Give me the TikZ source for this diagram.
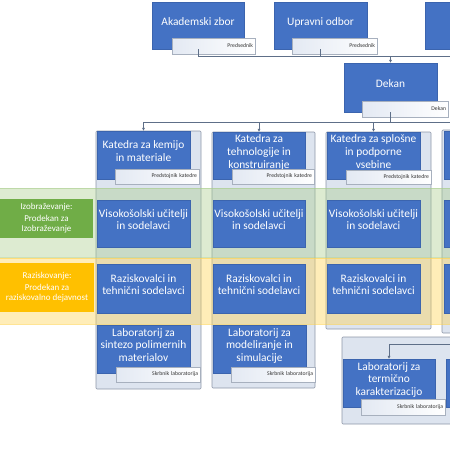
\documentclass[tikz,border=0pt]{standalone}
\usepackage{fontspec}
\setmainfont{Carlito}
\usetikzlibrary{arrows.meta}
\definecolor{obl}{HTML}{4472C4}
\definecolor{bbord}{HTML}{3B64AE}
\definecolor{capb}{HTML}{A7B0BE}
\definecolor{capl}{HTML}{E3E9F3}
\definecolor{contb}{HTML}{8D97A8}
\definecolor{contf}{HTML}{DDE4EF}
\definecolor{connc}{HTML}{5E6F88}
\definecolor{gband}{HTML}{A9CD8C}
\definecolor{yband}{HTML}{FFD24D}
\definecolor{glab}{HTML}{70AD47}
\definecolor{ylab}{HTML}{FFC000}
\tikzset{
 blk/.style={draw=bbord, line width=0.4pt, fill=obl, text=white, inner sep=0pt, outer sep=0pt, align=center, anchor=north west, text depth=8pt, font=\fontsize{11.4}{12.8}\selectfont},
 sz/.style 2 args={minimum width=#1pt, minimum height=#2pt},
 capbox/.style={draw=capb, line width=0.5pt, left color=capl, right color=white, text=black!80, inner ysep=0pt, inner xsep=2pt, outer sep=0pt, align=right, anchor=north west, font=\fontsize{5.7}{6}\selectfont},
 cont/.style={draw=contb, fill=contf, line width=0.6pt, rounded corners=1pt, anchor=north west, inner sep=0pt, outer sep=0pt},
 band/.style={fill opacity=0.4, draw opacity=0.6, line width=0.5pt, anchor=north west, inner sep=0pt, outer sep=0pt},
 sidebox/.style={text=white, inner sep=0pt, outer sep=0pt, align=center, anchor=north west, font=\fontsize{9}{10.5}\selectfont},
 conn/.style={draw=connc, line width=0.6pt},
 arr/.style={conn, -{Latex[length=3.2pt,width=3.2pt]}},
}
\begin{document}
\begin{tikzpicture}[x=1pt,y=-1pt]
\useasboundingbox (0,0) rectangle (450,450);
\clip (0,0) rectangle (450,450);
% containers
\node[cont, sz={105}{258}] (c1) at (96,131) {};
\node[cont, sz={103}{256}] (c2) at (212,132) {};
\node[cont, sz={105}{197}] (c3) at (326,132) {};
\node[cont, sz={30}{203}] (c4) at (442,130) {};
\node[cont, sz={130}{87}] (lc3) at (342,337) {};
% bands
\node[band, fill=gband, draw=gband, sz={452}{69}] (gb) at (-1,188) {};
\node[band, fill=yband, draw=yband, sz={452}{66}] (yb) at (-1,258) {};
% side labels
\node[sidebox, fill=glab, sz={93}{39}] (gl) at (0,199) {Izobraževanje:\\[1pt]Prodekan za\\Izobraževanje};
\node[sidebox, fill=ylab, sz={94}{49}] (yl) at (0,263) {Raziskovanje:\\[1pt]Prodekan za\\raziskovalno dejavnost};
% top boxes
\node[blk, sz={92}{47}] (ak) at (152,2) {Akademski zbor};
\node[blk, sz={93}{47}] (up) at (274,2) {Upravni odbor};
\node[blk, sz={60}{47}] (t3) at (425,2) {};
\node[blk, sz={93}{49}] (dek) at (344,63) {Dekan};
% departments
\node[blk, sz={93}{48}] (k1) at (97,131) {Katedra za kemijo\\in materiale};
\node[blk, sz={92}{47}] (k2) at (213,132) {Katedra za\\tehnologije in\\konstruiranje};
\node[blk, sz={93}{47}] (k3) at (327,132) {Katedra za splošne\\in podporne\\vsebine};
\node[blk, sz={40}{48}] (k4) at (444,131) {};
% teachers
\node[blk, sz={93}{47}] (v1) at (97,200) {Visokošolski učitelji\\in sodelavci};
\node[blk, sz={92}{47}] (v2) at (213,200) {Visokošolski učitelji\\in sodelavci};
\node[blk, sz={93}{47}] (v3) at (327,200) {Visokošolski učitelji\\in sodelavci};
\node[blk, sz={40}{47}] (v4) at (444,200) {};
% researchers
\node[blk, sz={93}{49}] (r1) at (97,264) {Raziskovalci in\\tehnični sodelavci};
\node[blk, sz={92}{49}] (r2) at (213,264) {Raziskovalci in\\tehnični sodelavci};
\node[blk, sz={93}{49}] (r3) at (327,264) {Raziskovalci in\\tehnični sodelavci};
\node[blk, sz={40}{49}] (r4) at (444,264) {};
% labs
\node[blk, sz={93}{48}] (l1) at (97,325) {Laboratorij za\\sintezo polimernih\\materialov};
\node[blk, sz={93}{48}] (l2) at (213,325) {Laboratorij za\\modeliranje in\\simulacije};
\node[blk, sz={92}{48}] (l3) at (343,359) {Laboratorij za\\termično\\karakterizacijo};
\node[blk, sz={40}{48}] (l4) at (446,359) {};
% captions
\node[capbox, text width=79pt, minimum height=16pt] (ca) at (172,38) {Predsednik};
\node[capbox, text width=81pt, minimum height=16pt] (cu) at (292,38) {Predsednik};
\node[capbox, text width=82pt, minimum height=16pt] (cd) at (362,101) {Dekan};
\node[capbox, text width=80pt, minimum height=15pt] (ck1) at (115,169) {Predstojnik katedre};
\node[capbox, text width=78pt, minimum height=15pt] (ck2) at (232,169) {Predstojnik katedre};
\node[capbox, text width=81pt, minimum height=14pt] (ck3) at (346,170) {Predstojnik katedre};
\node[capbox, text width=80pt, minimum height=15pt] (cl1) at (116,367) {Skrbnik laboratorija};
\node[capbox, text width=80pt, minimum height=15pt] (cl2) at (231,367) {Skrbnik laboratorija};
\node[capbox, text width=80pt, minimum height=16pt] (cl3) at (361,399) {Skrbnik laboratorija};
% connectors
\coordinate (h1) at (460,56);
\coordinate (h2) at (460,122);
\coordinate (h3) at (460,344);
\draw[conn] (ak.south) |- (h1);
\draw[conn] (up.south) -- (up.south |- h1);
\draw[arr] (dek.north |- h1) -- (dek.north);
\draw[conn] (dek.south) -- (dek.south |- h2);
\draw[conn] (k1.north |- h2) -- (h2);
\draw[arr] (k1.north |- h2) -- (k1.north);
\draw[arr] (k2.north |- h2) -- (k2.north);
\draw[arr] (k3.north |- h2) -- (k3.north);
\draw[arr] (h3) -| (l3.north);
\end{tikzpicture}
\end{document}
